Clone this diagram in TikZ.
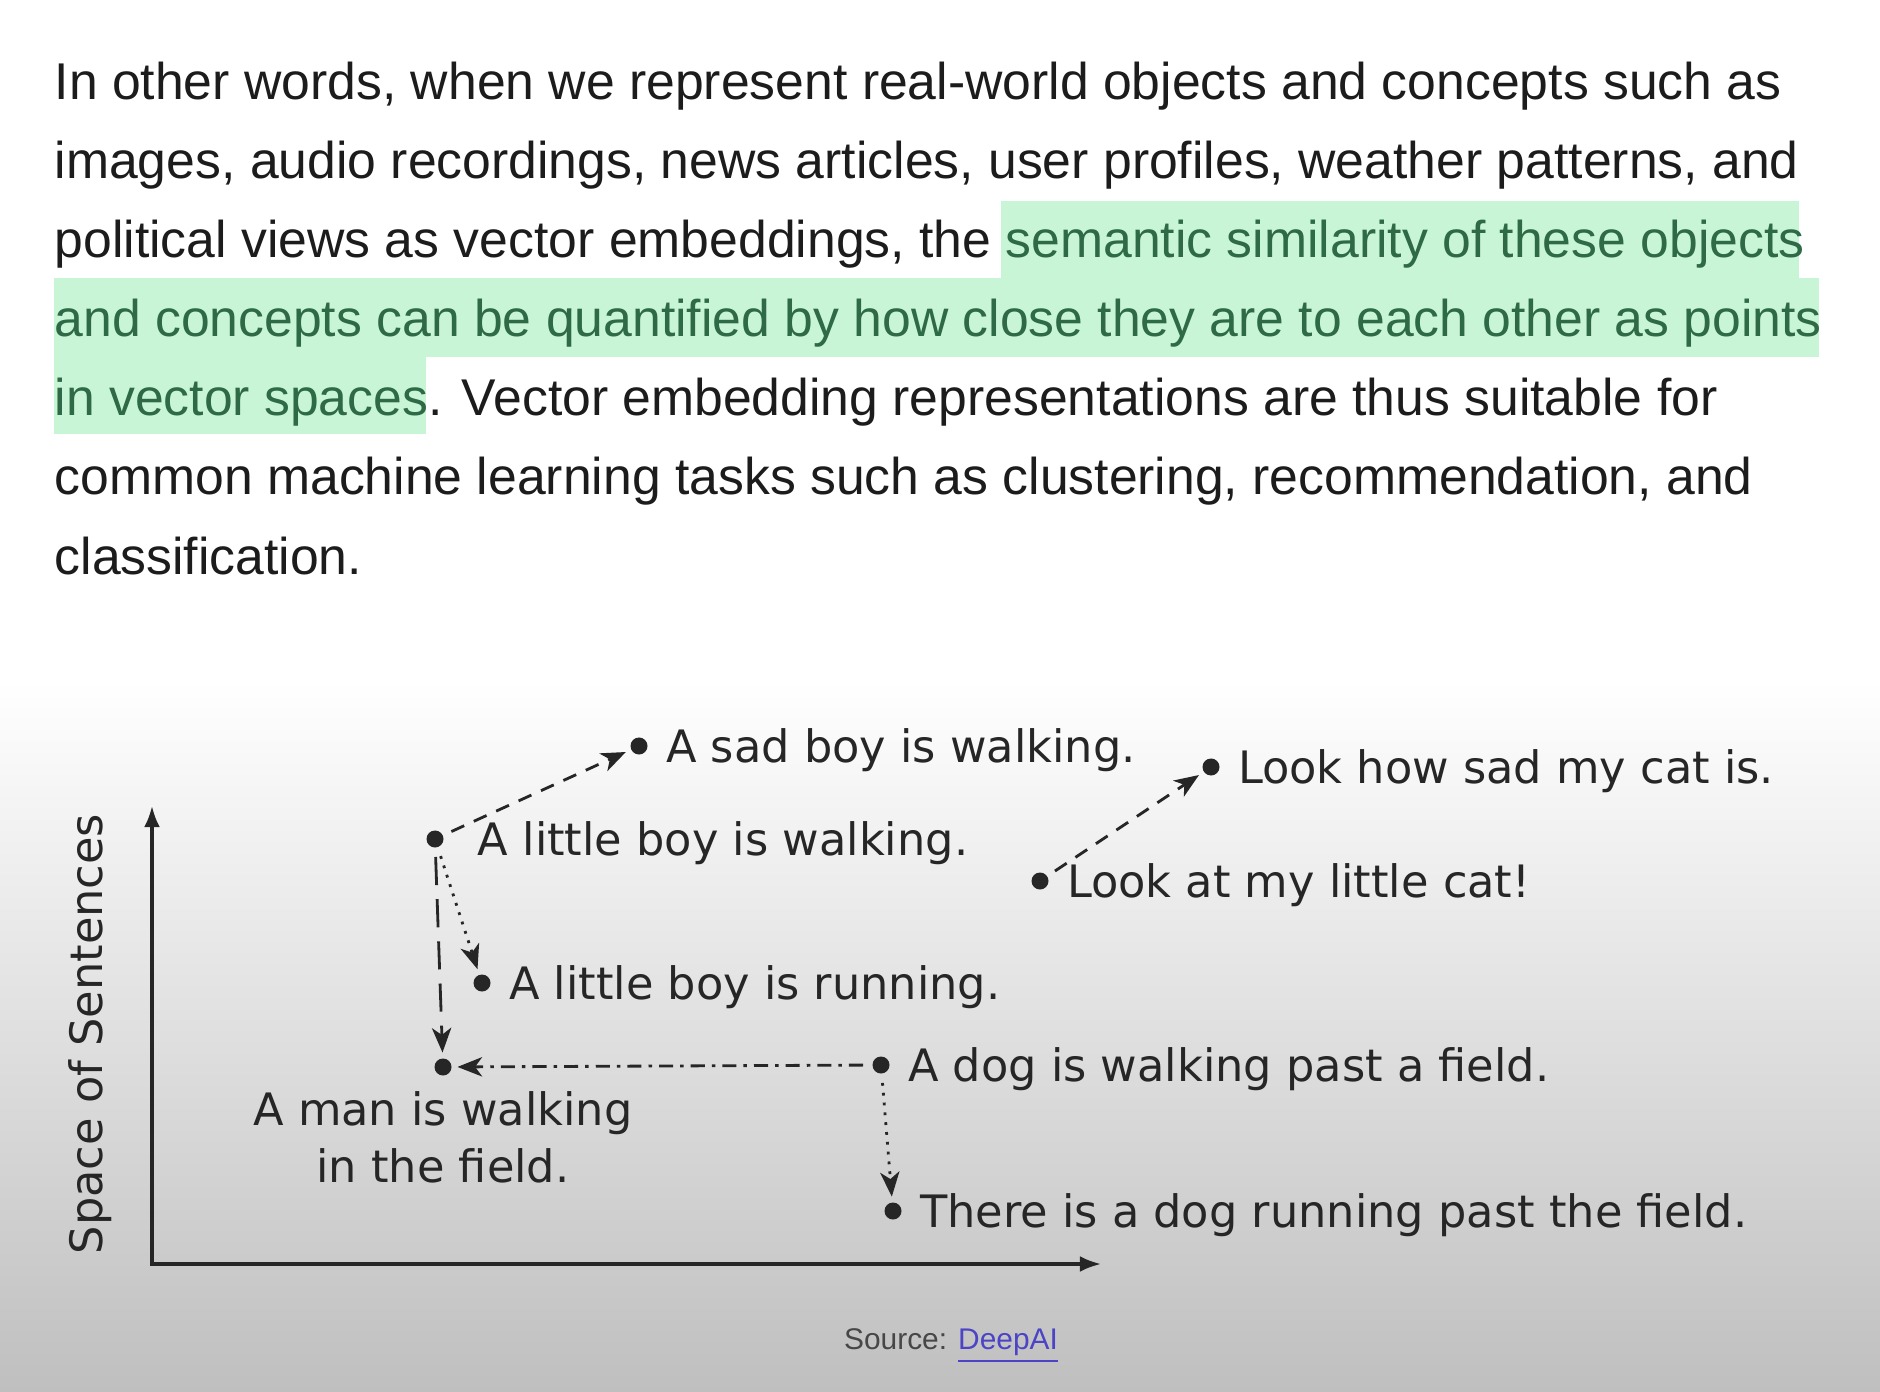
\documentclass[tikz,border=0pt]{standalone}
\usepackage{fontspec}
\setmainfont{Liberation Sans}
\newfontfamily\figfont{DejaVu Sans}
\usetikzlibrary{arrows.meta, positioning}
\definecolor{txt}{HTML}{1C1C1C}
\definecolor{hlfill}{HTML}{C9F5D7}
\definecolor{hltext}{HTML}{2E6A46}
\definecolor{bggray}{HTML}{BFBFBF}
\definecolor{ink}{HTML}{262626}
\definecolor{linkblue}{HTML}{4B45C6}

\begin{document}
\begin{tikzpicture}[x=0.01cm, y=-0.01cm,
        para/.style={anchor=base west, inner sep=0pt, font=\fontsize{14.7}{18}\selectfont, text=txt},
        dot/.style={circle, fill=ink, inner sep=0pt, minimum size=0.17cm},
        lbl/.style={anchor=base west, inner sep=0pt, font=\figfont\fontsize{12.7}{16}\selectfont, text=ink, xshift=7.5pt, yshift=-4.8pt},
        arr/.style={-{Stealth[length=7pt, width=5.5pt, inset=2pt]}, thick, ink, shorten >=1.5pt, shorten <=2.5pt}
    ]
        \useasboundingbox (0,0) rectangle (1880,1392);
        \fill[white] (0,0) rectangle (1880,1392);
        \shade[top color=white, bottom color=bggray] (0,680) rectangle (1880,1392);

        % highlighted part of the paragraph
        \fill[hlfill] (1001,201) rectangle (1799,278);
        \fill[hlfill] (54,278) rectangle (1819,357);
        \fill[hlfill] (54,357) rectangle (426,434);

        \node[para] (l1) at (54,100) {In other words, when we represent real-world objects and concepts such as};
        \node[para] (l2) at (54,179) {images, audio recordings, news articles, user profiles, weather patterns, and};
        \node[para] (l3) at (54,258) {political views as vector embeddings, the \textcolor{hltext}{semantic similarity of these objects}};
        \node[para, text=hltext] (l4) at (54,337) {and concepts can be quantified by how close they are to each other as points};
        \node[para] (l5) at (54,416) {\textcolor{hltext}{in vector spaces}. Vector embedding representations are thus suitable for};
        \node[para] (l6) at (54,495) {common machine learning tasks such as clustering, recommendation, and};
        \node[para] (l7) at (54,574) {classification.};

        % axes
        \coordinate (ytop) at (152,806);
        \coordinate (orig) at (152,1264);
        \coordinate (xend) at (1101,1264);
        \draw[line width=0.9pt, ink, {Latex[length=6pt, width=4.5pt]}-{Latex[length=6pt, width=4.5pt]}] (ytop) -- (orig) -- (xend);
        \node[rotate=90, font=\figfont\fontsize{12.7}{16}\selectfont, text=ink] (ylab) at (90,1034) {Space of Sentences};

        % sentences
        \node[dot] (sb)  at (639,746)  {};
        \node[dot] (lbw) at (435,839)  {};
        \node[dot] (lbr) at (482,983)  {};
        \node[dot] (man) at (443,1067) {};
        \node[dot] (dgw) at (881,1065) {};
        \node[dot] (dgr) at (893,1211) {};
        \node[dot] (lc)  at (1040,881) {};
        \node[dot] (sc)  at (1211,767) {};

        \node[lbl] (sbt)  at (sb)  {A sad boy is walking.};
        \node[lbl, xshift=4.5pt] (lbwt) at (lbw) {A little boy is walking.};
        \node[lbl] (lbrt) at (lbr) {A little boy is running.};
        \node[lbl] (dgwt) at (dgw) {A dog is walking past a field.};
        \node[lbl] (dgrt) at (dgr) {There is a dog running past the field.};
        \node[lbl] (lct)  at (lc)  {Look at my little cat!};
        \node[lbl] (sct)  at (sc)  {Look how sad my cat is.};
        \node[below=0.15cm of man, inner sep=0pt, align=center, font=\figfont\fontsize{12.7}{16}\selectfont, text=ink] (mant) {A man is walking\\in the field.};

        \draw[arr, dash pattern=on 4pt off 3pt] (lbw) -- (sb);
        \draw[arr, dash pattern=on 8pt off 4pt] (lbw) -- (man);
        \draw[arr, dotted] (lbw) -- (lbr);
        \draw[arr, dash pattern=on 4pt off 2pt on 1pt off 2pt] (dgw) -- (man);
        \draw[arr, dotted] (dgw) -- (dgr);
        \draw[arr, dash pattern=on 4pt off 3pt] (lc) -- (sc);

        \node[font=\fontsize{8.5}{10}\selectfont, text=ink!85] (src) at (951,1346) {Source: \textcolor{linkblue}{\underline{DeepAI}}};
    \end{tikzpicture}
\end{document}
